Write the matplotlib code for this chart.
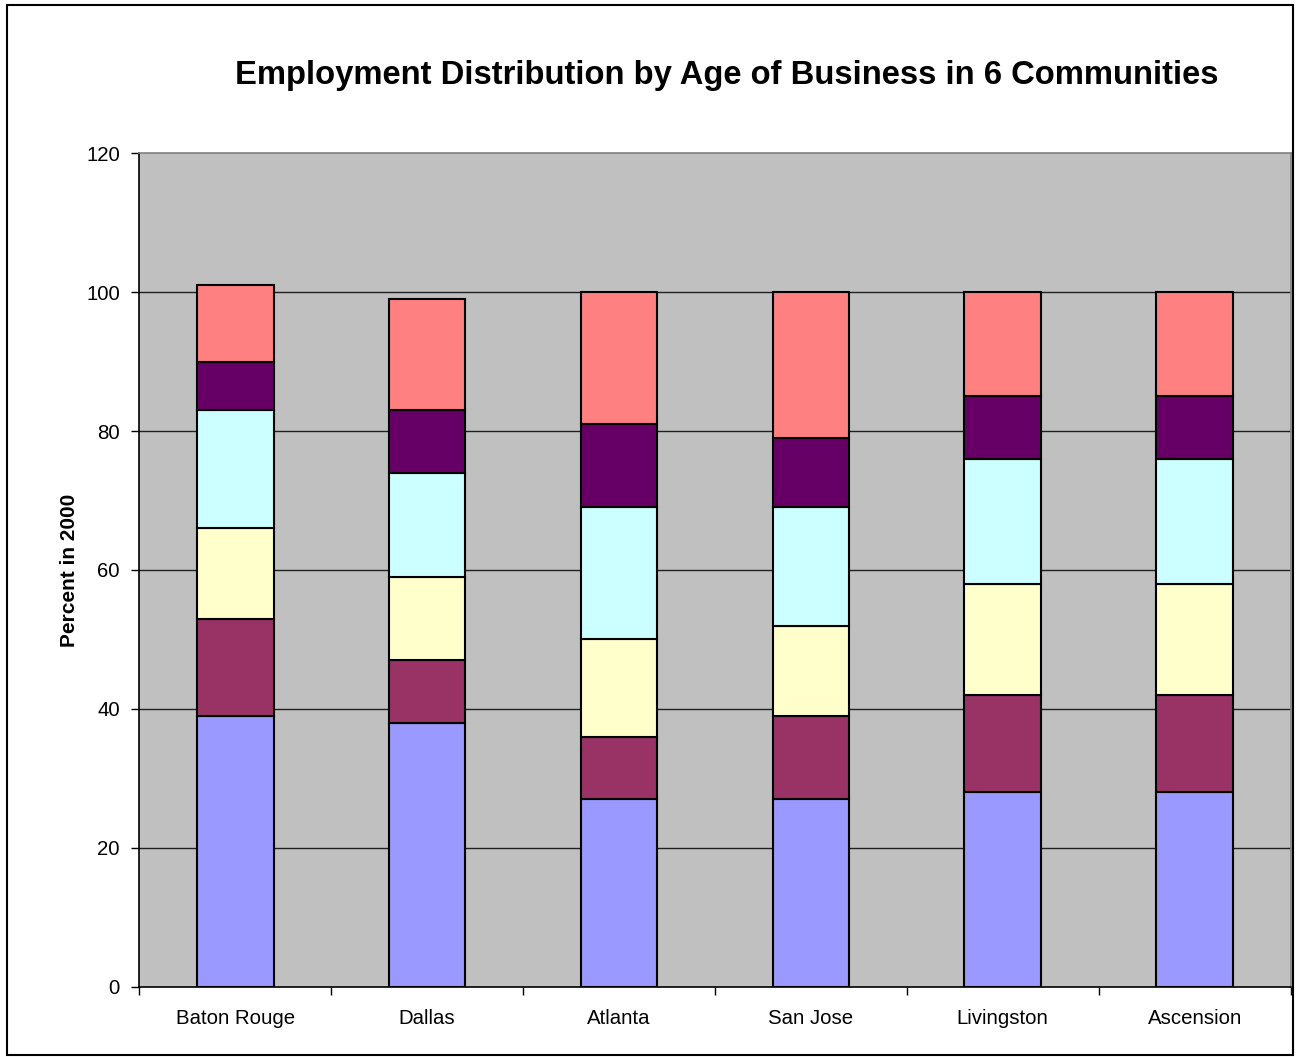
import numpy as np
import matplotlib
matplotlib.use('Agg')
import matplotlib.pyplot as plt
from matplotlib.patches import Rectangle

# Communities and employment share (percent) by business-age group, bottom to top
communities = ['Baton Rouge', 'Dallas', 'Atlanta', 'San Jose', 'Livingston', 'Ascension']
group1 = [39, 38, 27, 27, 28, 28]
group2 = [14, 9, 9, 12, 14, 14]
group3 = [13, 12, 14, 13, 16, 16]
group4 = [17, 15, 19, 17, 18, 18]
group5 = [7, 9, 12, 10, 9, 9]
group6 = [11, 16, 19, 21, 15, 15]

colors = ['#9999FF', '#993366', '#FFFFCC', '#CCFFFF', '#660066', '#FF8080']
yticks = [0, 20, 40, 60, 80, 100, 120]

plt.rcParams['font.family'] = ['Liberation Sans', 'DejaVu Sans']

fig = plt.figure(figsize=(12.98, 10.57), dpi=100)
ax = fig.add_axes([0.1073, 0.0665, 0.887, 0.7885])
ax.set_facecolor('#C0C0C0')

# stacked bars
x = np.arange(len(communities))
bottom = np.zeros(len(communities))
for vals, c in zip([group1, group2, group3, group4, group5, group6], colors):
    ax.bar(x, vals, width=0.4, bottom=bottom, color=c, edgecolor='black',
           linewidth=1.5, zorder=3)
    bottom += np.array(vals)

ax.set_xlim(-0.5, len(communities) - 0.5)
ax.set_ylim(0, 120)
ax.set_yticks(yticks)
ax.set_yticklabels([str(v) for v in yticks], fontsize=14.7)
for v in yticks[1:-1]:
    ax.axhline(v, color='#202020', linewidth=1, zorder=1)

# ticks between categories, labels at centres
ax.set_xticks(np.arange(-0.5, len(communities), 1.0))
ax.set_xticklabels([])
ax.set_xticks(x, minor=True)
ax.set_xticklabels(communities, minor=True, fontsize=14.7)
ax.tick_params(axis='x', which='minor', length=0, pad=16)
ax.tick_params(axis='x', which='major', length=6, width=1, direction='out')
ax.tick_params(axis='y', length=6, width=1, direction='out', pad=8)

for s in ['left', 'bottom']:
    ax.spines[s].set_color('black')
    ax.spines[s].set_linewidth(1.2)
for s in ['top', 'right']:
    ax.spines[s].set_color('#808080')
    ax.spines[s].set_linewidth(1.2)

ax.set_ylabel('Percent in 2000', fontsize=15, fontweight='bold')
ax.yaxis.set_label_coords(-0.052, 0.5)

fig.text(0.56, 0.9285, 'Employment Distribution by Age of Business in 6 Communities',
         ha='center', va='center', fontsize=23.6, fontweight='bold')

# outer chart border
fig.patches.append(Rectangle((7 / 1298, 1 - 1055 / 1057), 1286 / 1298, 1050 / 1057,
                             transform=fig.transFigure, fill=False,
                             edgecolor='black', linewidth=1.5))

fig.savefig('out.png', dpi=100)
